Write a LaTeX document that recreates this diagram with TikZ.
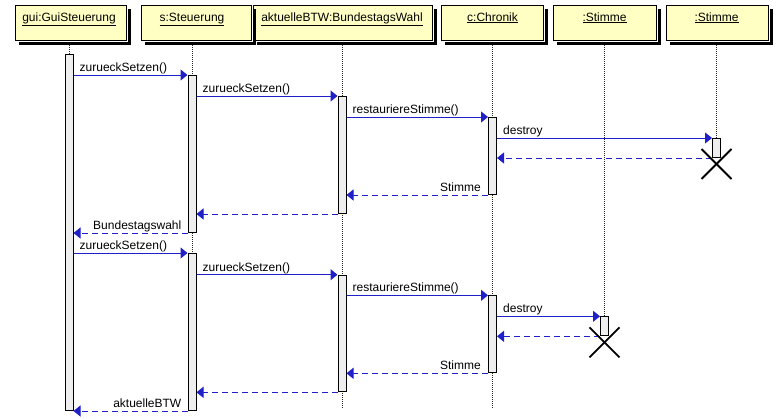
\documentclass[tikz,border=0pt]{standalone}
\usepackage{fontspec}
\setmainfont{Liberation Sans}
\usetikzlibrary{arrows.meta,calc}
\definecolor{msgblue}{RGB}{32,32,200}
\definecolor{headfill}{RGB}{255,255,196}
\definecolor{barfill}{RGB}{238,238,238}
\begin{document}
\begin{tikzpicture}[x=1pt,y=-1pt,
 headbox/.style={draw=black, line width=1pt, fill=headfill, anchor=north west, minimum height=35pt, inner sep=0pt},
 headshadow/.style={fill=black},
 headtxt/.style={anchor=base, inner sep=0pt, font=\fontsize{12}{14}\selectfont},
 lifeline/.style={draw=black!85, line width=0.8pt, dash pattern=on 1pt off 1pt},
 actbar/.style={draw=black, line width=1pt, fill=barfill, anchor=north, minimum width=8pt, inner sep=0pt},
 callmsg/.style={draw=msgblue, color=msgblue, line width=1pt, -{Triangle[length=7pt,width=11pt]}},
 retmsg/.style={draw=msgblue, color=msgblue, line width=1pt, dash pattern=on 6pt off 4pt, -{Triangle[length=7pt,width=11pt]}},
 lbl/.style={inner sep=0pt, font=\fontsize{12}{14}\selectfont},
 killx/.style={draw=black, line width=1.8pt}
]
\useasboundingbox (0,0) rectangle (778,418);

% heads
\node[headbox, minimum width=111pt] (hgui) at (15,5) {};
\node[headbox, minimum width=110pt] (hs) at (141,5) {};
\node[headbox, minimum width=179pt] (hb) at (253.3,5) {};
\node[headbox, minimum width=102.3pt] (hc) at (440.7,5) {};
\node[headbox, minimum width=103pt] (hx1) at (553,5) {};
\node[headbox, minimum width=102.6pt] (hx2) at (665.7,5) {};

% head shadows (right and bottom strips)
\foreach \h in {hgui,hs,hb,hc,hx1,hx2}{
  \path[headshadow] ($(\h.north east)+(0.5,4)$) rectangle ($(\h.south east)+(4,4)$);
  \path[headshadow] ($(\h.south west)+(4,0.5)$) rectangle ($(\h.south east)+(4,4)$);
}

\node[headtxt] (tgui) at (69,21) {\underline{gui:GuiSteuerung}};
\node[headtxt] (ts) at (192,21) {\underline{s:Steuerung}};
\node[headtxt] (tb) at (342,21) {\underline{aktuelleBTW:BundestagsWahl}};
\node[headtxt] (tc) at (492.5,21) {\underline{c:Chronik}};
\node[headtxt] (tx1) at (604.5,21) {\underline{:Stimme}};
\node[headtxt] (tx2) at (716.5,21) {\underline{:Stimme}};

% lifeline ends
\coordinate (egui) at (69,409);
\coordinate (es) at (192,409);
\coordinate (eb) at (342,409);
\coordinate (ec) at (492.5,409);
\coordinate (ex1) at (604.5,316.3);
\coordinate (ex2) at (716.5,138);

\draw[lifeline] ($(tgui.base |- hgui.south)+(0,4)$) -- (egui);
\draw[lifeline] ($(ts.base |- hs.south)+(0,4)$) -- (es);
\draw[lifeline] ($(tb.base |- hb.south)+(0,4)$) -- (eb);
\draw[lifeline] ($(tc.base |- hc.south)+(0,4)$) -- (ec);
\draw[lifeline] ($(tx1.base |- hx1.south)+(0,4)$) -- (ex1);
\draw[lifeline] ($(tx2.base |- hx2.south)+(0,4)$) -- (ex2);

% activation bars
\node[actbar, minimum height=356pt] (g1) at (69,54) {};
\node[actbar, minimum height=157pt] (s1) at (192,75) {};
\node[actbar, minimum height=157pt] (s2) at (192,253) {};
\node[actbar, minimum height=117pt] (b1) at (342,96) {};
\node[actbar, minimum height=116.6pt] (b2) at (342,274.7) {};
\node[actbar, minimum height=77pt] (c1) at (492.5,117) {};
\node[actbar, minimum height=77pt] (c2) at (492.5,295.3) {};
\node[actbar, minimum height=19pt] (x1) at (604.5,316.3) {};
\node[actbar, minimum height=19pt] (x2) at (716.5,138) {};

% first round
\draw[callmsg] (g1.east |- s1.north) -- (s1.north west);
\node[lbl, anchor=base west] at ($(g1.east |- s1.north)+(6,-3.5)$) {zurueckSetzen()};
\draw[callmsg] (s1.east |- b1.north) -- (b1.north west);
\node[lbl, anchor=base west] at ($(s1.east |- b1.north)+(6,-3.5)$) {zurueckSetzen()};
\draw[callmsg] (b1.east |- c1.north) -- (c1.north west);
\node[lbl, anchor=base west] at ($(b1.east |- c1.north)+(6,-3.5)$) {restauriereStimme()};
\draw[callmsg] (c1.east |- x2.north) -- (x2.north west);
\node[lbl, anchor=base west] at ($(c1.east |- x2.north)+(6,-3.5)$) {destroy};
\draw[retmsg] (x2.south west) -- (c1.east |- x2.south);
\draw[retmsg] (c1.south west) -- (b1.east |- c1.south);
\node[lbl, anchor=base east] at ($(c1.south west)+(-7,-3.5)$) {Stimme};
\draw[retmsg] (b1.south west) -- (s1.east |- b1.south);
\draw[retmsg] (s1.south west) -- (g1.east |- s1.south);
\node[lbl, anchor=base east] at ($(s1.south west)+(-6,-3.5)$) {Bundestagswahl};

% second round
\draw[callmsg] (g1.east |- s2.north) -- (s2.north west);
\node[lbl, anchor=base west] at ($(g1.east |- s2.north)+(6,-3.5)$) {zurueckSetzen()};
\draw[callmsg] (s2.east |- b2.north) -- (b2.north west);
\node[lbl, anchor=base west] at ($(s2.east |- b2.north)+(6,-3.5)$) {zurueckSetzen()};
\draw[callmsg] (b2.east |- c2.north) -- (c2.north west);
\node[lbl, anchor=base west] at ($(b2.east |- c2.north)+(6,-3.5)$) {restauriereStimme()};
\draw[callmsg] (c2.east |- x1.north) -- (x1.north west);
\node[lbl, anchor=base west] at ($(c2.east |- x1.north)+(6,-3.5)$) {destroy};
\draw[retmsg] (x1.south west) -- (c2.east |- x1.south);
\draw[retmsg] (c2.south west) -- (b2.east |- c2.south);
\node[lbl, anchor=base east] at ($(c2.south west)+(-7,-3.5)$) {Stimme};
\draw[retmsg] (b2.south west) -- (s2.east |- b2.south);
\draw[retmsg] (s2.south west) -- (g1.east |- s2.south);
\node[lbl, anchor=base east] at ($(s2.south west)+(-6,-3.5)$) {aktuelleBTW};

% destruction marks
\draw[killx] ($(x2.south)+(-15,-9)$) -- ($(x2.south)+(15,21)$);
\draw[killx] ($(x2.south)+(-15,21)$) -- ($(x2.south)+(15,-9)$);
\draw[killx] ($(x1.south)+(-15,-9)$) -- ($(x1.south)+(15,21)$);
\draw[killx] ($(x1.south)+(-15,21)$) -- ($(x1.south)+(15,-9)$);
\end{tikzpicture}
\end{document}
